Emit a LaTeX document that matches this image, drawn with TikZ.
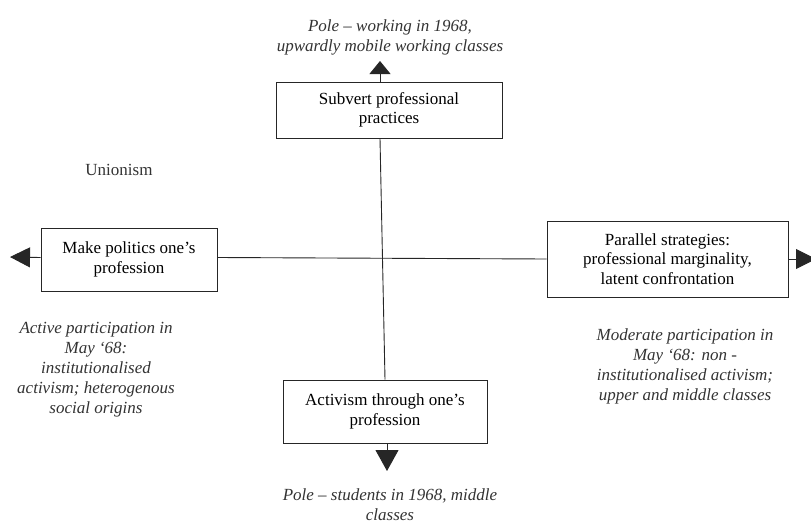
\documentclass[tikz,border=0pt]{standalone}
\usepackage{fontspec}
\setmainfont{Liberation Serif}
\usetikzlibrary{arrows.meta,calc}

\tikzset{
  strategy/.style={draw=black!85, line width=0.9pt, align=center, inner sep=0pt,
    font=\fontsize{17}{19.5}\selectfont},
  pole/.style={align=center, inner sep=0pt, font=\fontsize{17}{20}\selectfont\itshape, text=black!80},
  label/.style={inner sep=0pt, font=\fontsize{17}{20}\selectfont, text=black!80},
  axis/.style={draw=black!85, line width=0.9pt}
}

\begin{document}
\begin{tikzpicture}[x=1pt, y=-1pt]
  \useasboundingbox (0,0) rectangle (811,522);

  % four strategies
  \node[strategy, minimum width=226pt, minimum height=56pt] (subvert) at (389,110)
    {Subvert professional\\practices};
  \node[strategy, minimum width=176pt, minimum height=63pt] (politics) at (129,259.5)
    {Make politics one’s\\profession};
  \node[strategy, minimum width=241pt, minimum height=76pt] (parallel) at (667.5,259)
    {Parallel strategies:\\professional marginality,\\latent confrontation};
  \node[strategy, minimum width=204pt, minimum height=63pt] (through) at (385,411.5)
    {Activism through one’s\\profession};

  % pole descriptions
  \node[pole] (poleup) at (390,37)
    {Pole – working in 1968,\\upwardly mobile working classes};
  \node[pole] (poleleft) at (96,370)
    {Active participation in\\May ‘68:\\institutionalised\\activism; heterogenous\\social origins};
  \node[pole] (poleright) at (685,366)
    {Moderate participation in\\May ‘68: non -\\institutionalised activism;\\upper and middle classes};
  \node[pole] (poledown) at (390,504.5)
    {Pole – students in 1968, middle\\classes};
  \node[label] (union) at (119,170) {Unionism};

  % arrow ends
  \coordinate (upend) at (380,61);
  \coordinate (leftend) at (10,257);
  \coordinate (rightend) at (816,259);
  \coordinate (downend) at (387,471);

  % axes
  \draw[axis] ($(subvert.south)+(-9,0)$) -- (through.north);
  \draw[axis] ($(politics.east)+(0,-2)$) -- (parallel.west);

  % outward arrows
  \draw[axis, -{Triangle[length=13pt, width=21pt]}] ($(subvert.north)+(-9,0)$) -- (upend);
  \draw[axis, -{Triangle[length=20pt, width=20pt]}] ($(politics.west)+(0,-2)$) -- (leftend);
  \draw[axis, -{Triangle[length=20pt, width=20pt]}] (parallel.east) -- (rightend);
  \draw[axis, -{Triangle[length=21pt, width=23pt]}] ($(through.south)+(2,0)$) -- (downend);
\end{tikzpicture}
\end{document}
